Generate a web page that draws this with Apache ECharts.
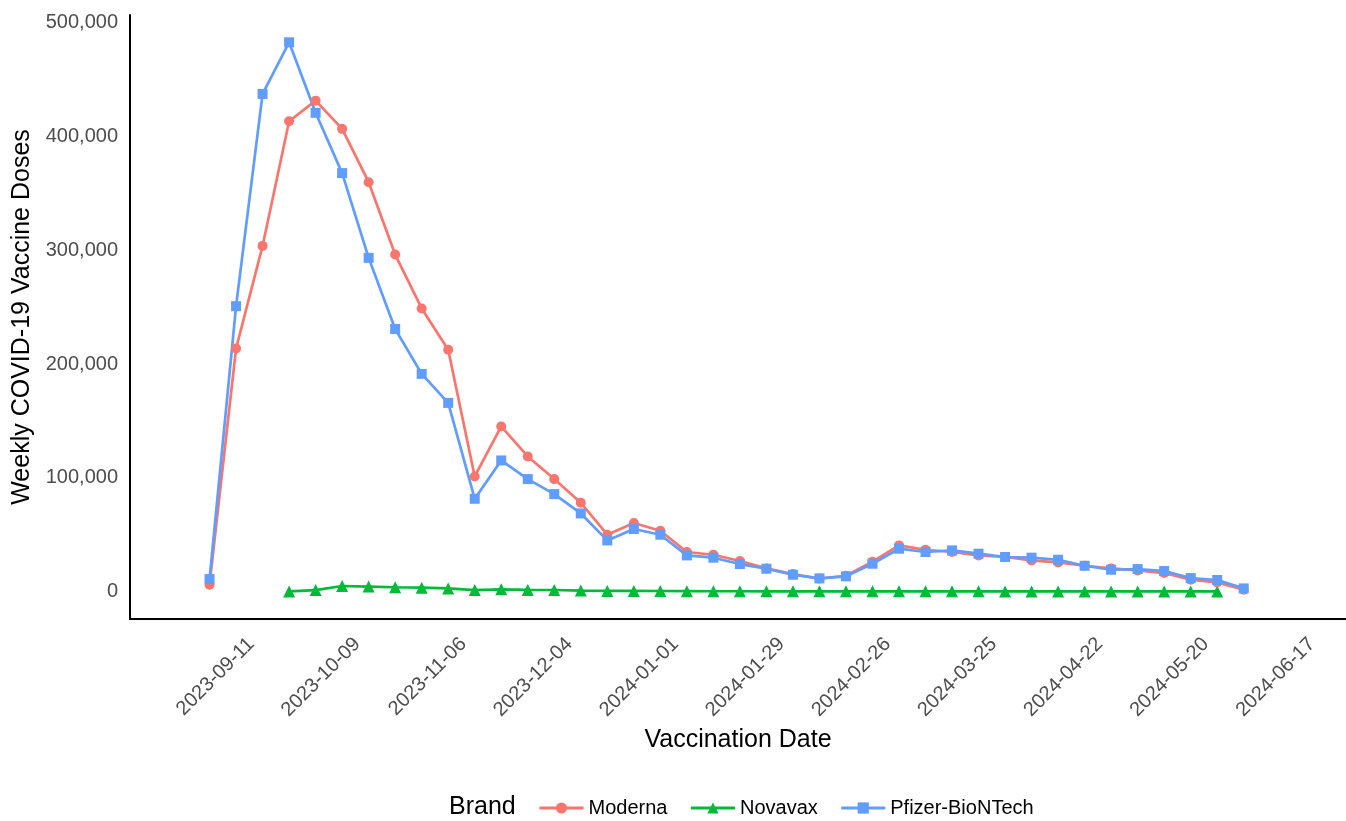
<!DOCTYPE html>
<html>
<head>
<meta charset="utf-8">
<title>Weekly COVID-19 Vaccine Doses</title>
<script src="https://cdn.jsdelivr.net/npm/echarts@6/dist/echarts.min.js"></script>
<style>
  html, body { margin: 0; padding: 0; background: #fff; }
  #main { width: 1346px; height: 821px; }
</style>
</head>
<body>
<div id="main"></div>
<script>
// weekly data points
var weeks = [
  '2023-08-31', '2023-09-07', '2023-09-14', '2023-09-21', '2023-09-28',
  '2023-10-05', '2023-10-12', '2023-10-19', '2023-10-26', '2023-11-02',
  '2023-11-09', '2023-11-16', '2023-11-23', '2023-11-30', '2023-12-07',
  '2023-12-14', '2023-12-21', '2023-12-28', '2024-01-04', '2024-01-11',
  '2024-01-18', '2024-01-25', '2024-02-01', '2024-02-08', '2024-02-15',
  '2024-02-22', '2024-02-29', '2024-03-07', '2024-03-14', '2024-03-21',
  '2024-03-28', '2024-04-04', '2024-04-11', '2024-04-18', '2024-04-25',
  '2024-05-02', '2024-05-09', '2024-05-16', '2024-05-23', '2024-05-30'
];
var moderna = [
  6200, 213800, 304000, 413600, 431700, 406900, 360000, 296400, 249000, 212700,
  101300, 145300, 118900, 99000, 78200, 50100, 60400, 53600, 34900, 32500,
  27000, 20500, 15500, 11500, 14000, 26400, 40700, 36900, 34900, 31900,
  30500, 27500, 25700, 22800, 20500, 18700, 16400, 10500, 8200, 1800
];
var novavax = [
  null, null, null, 200, 1400, 5000, 4500, 3900, 3500, 2900,
  1400, 2100, 1600, 1500, 1000, 700, 700, 600, 500, 400,
  400, 300, 300, 300, 300, 300, 300, 300, 300, 300,
  200, 200, 200, 200, 200, 200, 200, 200, 200, null
];
var pfizer = [
  11100, 251000, 437600, 483000, 421000, 368000, 293500, 231000, 191500, 166000,
  81700, 115400, 99000, 85800, 68800, 45100, 55100, 50100, 31900, 29900,
  24300, 20200, 14900, 11700, 13500, 24600, 37800, 34900, 36300, 33400,
  30500, 29900, 28100, 22800, 19300, 19900, 18200, 12000, 10300, 2900
];
var xTicks = [
  '2023-09-11', '2023-10-09', '2023-11-06', '2023-12-04', '2024-01-01', '2024-01-29',
  '2024-02-26', '2024-03-25', '2024-04-22', '2024-05-20', '2024-06-17'
];
var yTicks = [0, 100000, 200000, 300000, 400000, 500000];
var xLimits = ['2023-08-10', '2024-06-26'];
var yLimits = [-24000, 507000];

function dayNum(s) {
  var p = s.split('-');
  return Date.UTC(+p[0], +p[1] - 1, +p[2]) / 86400000;
}
function dayLabel(d) {
  return new Date(Math.round(d) * 86400000).toISOString().slice(0, 10);
}
function pairs(vals) {
  return weeks.map(function (w, i) { return [dayNum(w), vals[i]]; });
}

var font = 'Liberation Sans, Arial, sans-serif';

function lineSeries(name, vals, color, symbol, size) {
  return {
    name: name,
    type: 'line',
    data: pairs(vals),
    symbol: symbol,
    symbolSize: size,
    showAllSymbol: true,
    color: color,
    lineStyle: { width: 2.7, color: color },
    itemStyle: { color: color },
    emphasis: { disabled: true },
    z: name === 'Novavax' ? 1 : 2
  };
}

var chart = echarts.init(document.getElementById('main'));
chart.setOption({
  backgroundColor: '#fff',
  animation: false,
  textStyle: { fontFamily: font },
  title: {
    text: 'Brand',
    left: 449,
    top: 795,
    padding: 0,
    textStyle: { fontSize: 25, fontWeight: 'normal', color: '#000', fontFamily: font }
  },
  legend: {
    left: 538,
    top: 798,
    padding: 0,
    itemWidth: 44,
    itemHeight: 14,
    itemGap: 22,
    lineStyle: { width: 3 },
    textStyle: { fontSize: 20, color: '#000', fontFamily: font },
    data: ['Moderna', 'Novavax', 'Pfizer-BioNTech']
  },
  grid: { left: 130, right: 0, top: 15, bottom: 202 },
  xAxis: {
    type: 'value',
    min: dayNum(xLimits[0]),
    max: dayNum(xLimits[1]),
    name: 'Vaccination Date',
    nameLocation: 'middle',
    nameGap: 104,
    nameTextStyle: { fontSize: 25, color: '#000', fontFamily: font },
    axisLine: { show: true, onZero: false, lineStyle: { color: '#000', width: 2 } },
    axisTick: { show: false },
    splitLine: { show: false },
    axisLabel: {
      customValues: xTicks.map(dayNum),
      formatter: dayLabel,
      rotate: 45,
      margin: 22,
      fontSize: 20,
      color: '#4d4d4d',
      fontFamily: font
    }
  },
  yAxis: {
    type: 'value',
    min: yLimits[0],
    max: yLimits[1],
    name: 'Weekly COVID-19 Vaccine Doses',
    nameLocation: 'middle',
    nameRotate: 90,
    nameGap: 92,
    nameTextStyle: { fontSize: 25, color: '#000', fontFamily: font },
    axisLine: { show: true, onZero: false, lineStyle: { color: '#000', width: 2 } },
    axisTick: { show: false },
    splitLine: { show: false },
    axisLabel: {
      customValues: yTicks,
      formatter: function (v) { return v.toLocaleString('en-US'); },
      margin: 12,
      fontSize: 20,
      color: '#4d4d4d',
      fontFamily: font
    }
  },
  series: [
    lineSeries('Moderna', moderna, '#F8766D', 'circle', 10),
    lineSeries('Novavax', novavax, '#00BA38', 'triangle', 12),
    lineSeries('Pfizer-BioNTech', pfizer, '#619CFF', 'rect', 10)
  ]
});
</script>
</body>
</html>
